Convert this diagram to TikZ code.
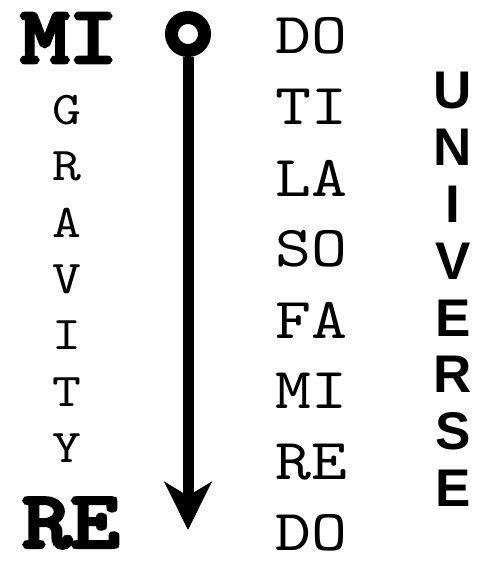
\documentclass[tikz,border=0pt]{standalone}
\usepackage{fontspec}
\newfontfamily\heavysans{Liberation Sans}
\newfontfamily\typemono{lmmono10-regular}[Extension=.otf]
\newfontfamily\heavymono{lmmono10-regular}[Extension=.otf, FakeBold=5]
\usetikzlibrary{arrows.meta}

\tikzset{
  notebig/.style={font=\fontsize{80}{80}\selectfont\heavymono, inner sep=0pt},
  notesyl/.style={font=\fontsize{58}{58}\selectfont\typemono, inner sep=0pt},
  gravletter/.style={font=\fontsize{47}{47}\selectfont\typemono, inner sep=0pt},
  uniletter/.style={font=\fontsize{53}{53}\selectfont\heavysans\bfseries, inner sep=0pt},
}

\begin{document}
\begin{tikzpicture}[x=1pt, y=-1pt]

            \useasboundingbox (0,0) rectangle (482,564);

            % the two big notes
            \node[notebig] (mi) at (69,38) {\scalebox{1.15}[1]{MI}};
            \node[notebig] (re) at (71,523) {\scalebox{1.15}[1]{RE}};

            % gravity, read downwards
            \foreach \ch [count=\i from 0] in {G,R,A,V,I,T,Y}
                \node[gravletter] (grav\i) at (67, 110+56.4*\i) {\scalebox{1.17}[1]{\ch}};

            % the scale
            \foreach \syl [count=\i from 0] in {DO,TI,LA,SO,FA,MI,RE,DO}
                \node[notesyl] (syl\i) at (311, 36+71*\i) {\scalebox{1.18}[1]{\syl}};

            % universe, read downwards
            \foreach \ch [count=\i from 0] in {U,N,I,V,E,R,S,E}
                \node[uniletter] (uni\i) at (453, 91+56.7*\i) {\ch};

            % ring and falling arrow
            \node[circle, draw, line width=13pt, minimum size=33pt, inner sep=0pt] (ring) at (188,34) {};
            \coordinate (tip) at (188,530);
            \draw[line width=11pt, -{Stealth[length=48pt, width=47pt, inset=14pt]}] (ring.south) -- (tip);

        \end{tikzpicture}
\end{document}
